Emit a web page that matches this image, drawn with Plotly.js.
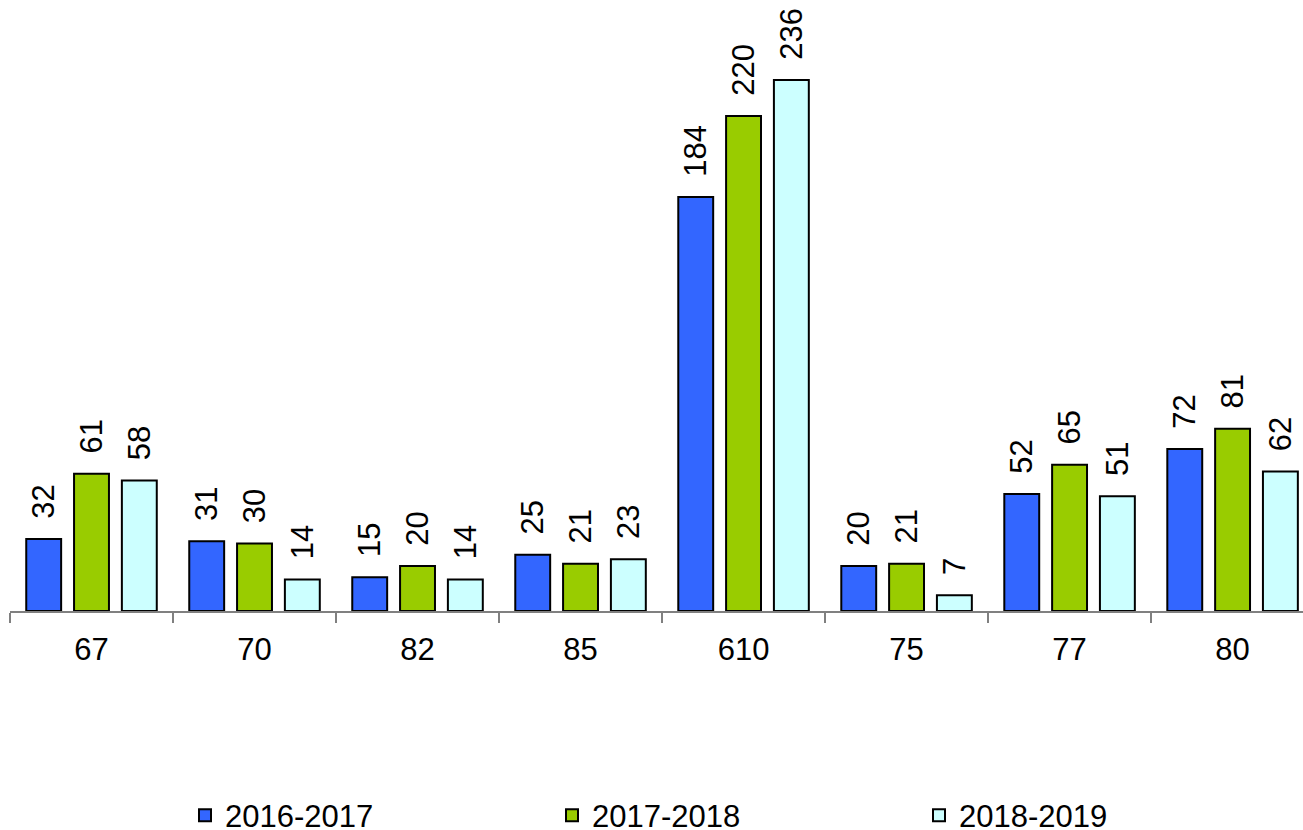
<!DOCTYPE html>
<html>
<head>
<meta charset="utf-8">
<script src="https://cdn.plot.ly/plotly-3.0.1.min.js"></script>
<style>html,body{margin:0;padding:0;background:#fff;}#chart{width:1303px;height:830px;}</style>
</head>
<body>
<div id="chart"></div>
<script>
const categories = ["67", "70", "82", "85", "610", "75", "77", "80"];
const seriesNames = ["2016-2017", "2017-2018", "2018-2019"];
const values2016 = [32, 31, 15, 25, 184, 20, 52, 72];
const values2017 = [61, 30, 20, 21, 220, 21, 65, 81];
const values2018 = [58, 14, 14, 23, 236, 7, 51, 62];
const colors = ["#3366FF", "#99CC00", "#CCFFFF"];

const allValues = [values2016, values2017, values2018];
const font = "Liberation Sans, Arial, sans-serif";

const traces = allValues.map((vals, i) => ({
  type: "bar",
  name: seriesNames[i],
  x: categories,
  y: vals,
  text: vals.map(v => "\u00a0\u00a0" + v),
  textposition: "outside",
  textangle: -90,
  constraintext: "none",
  cliponaxis: false,
  textfont: {family: font, size: 31, color: "#000"},
  marker: {color: colors[i], line: {color: "#000", width: 2}}
}));

const layout = {
  width: 1303,
  height: 830,
  margin: {l: 10, r: 0, t: 26, b: 219},
  paper_bgcolor: "#fff",
  plot_bgcolor: "#fff",
  barmode: "group",
  bargap: 0.12,
  bargroupgap: 0.27,
  font: {family: font, size: 31, color: "#000"},
  xaxis: {
    type: "category",
    range: [-0.5, 7.432],
    showline: true,
    linecolor: "#808080",
    linewidth: 2,
    ticks: "outside",
    tickson: "boundaries",
    ticklen: 10,
    tickwidth: 2,
    tickcolor: "#808080",
    ticklabelstandoff: 10,
    showgrid: false,
    zeroline: false,
    tickfont: {family: font, size: 31, color: "#000"}
  },
  yaxis: {
    range: [0, 260],
    visible: false,
    showgrid: false,
    zeroline: false
  },
  showlegend: true,
  legend: {
    orientation: "h",
    xref: "container",
    yref: "container",
    x: 0.142,
    xanchor: "left",
    y: 0.05,
    yanchor: "top",
    entrywidth: 322,
    entrywidthmode: "pixels",
    itemwidth: 30,
    font: {family: font, size: 31, color: "#000"},
    bgcolor: "rgba(0,0,0,0)"
  }
};

Plotly.newPlot("chart", traces, layout, {displayModeBar: false, staticPlot: true});
</script>
</body>
</html>
